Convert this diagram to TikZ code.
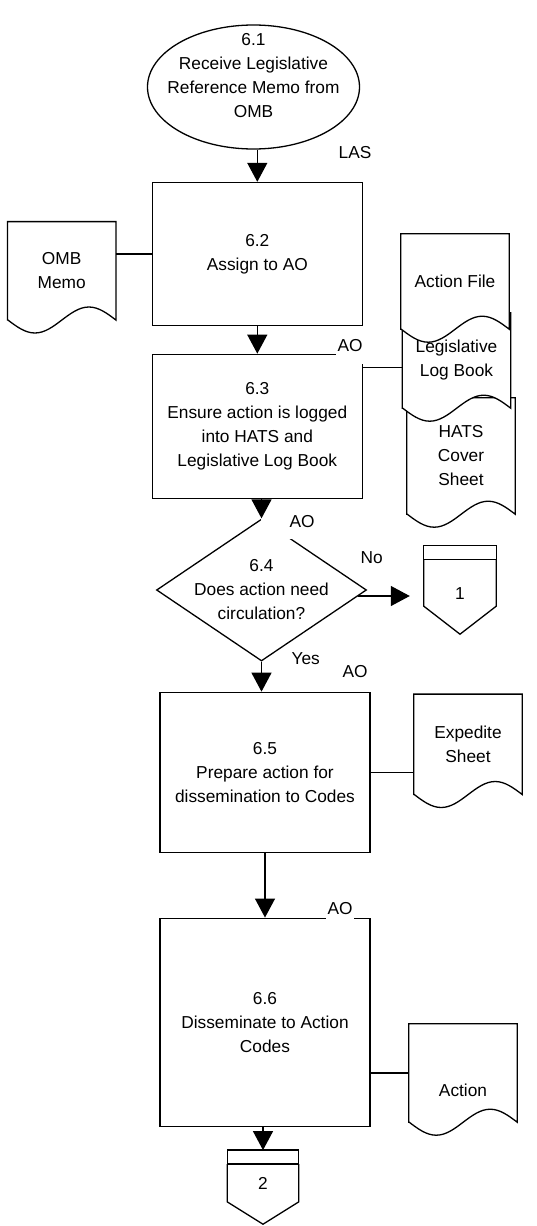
\documentclass[tikz,border=0pt]{standalone}
\usepackage{fontspec}
\setmainfont{Liberation Sans}
\usetikzlibrary{arrows.meta, positioning, shapes.geometric, calc, backgrounds}

\newcommand{\docwave}[1]{%
  \begin{pgfonlayer}{background}
    \draw[shapeline, fill=white] (#1.south west) -- (#1.north west) -- (#1.north east) -- (#1.south east)
      sin ++(-27,-13) cos ++(-27,13) sin ++(-27,13) cos ++(-27,-13) -- cycle;
  \end{pgfonlayer}}
\newcommand{\offpage}[2]{%
  \draw[shapeline] ($(#1.north west)+(0,-14)$) rectangle (#1.north east);
  \draw[shapeline] (#1.north west) -- (#1.south west) -- ($(#1.south)+(0,#2)$) -- (#1.south east) -- (#1.north east);}

\begin{document}
\begin{tikzpicture}[
  x=1pt, y=-1pt,
  font=\fontsize{17.3}{24}\selectfont,
  shapeline/.style={line width=1.3pt},
  startnode/.style={
    ellipse, draw, line width=1.3pt, minimum width=212, minimum height=124,
    inner sep=-15pt, align=center
  },
  stepbox/.style={draw, line width=1.3pt, minimum width=210, inner sep=0pt, align=center},
  decision/.style={
    diamond, draw, line width=1.3pt, aspect=1.48, minimum width=210, minimum height=142,
    inner sep=-12pt, align=center
  },
  doc/.style={minimum width=108, inner sep=0pt, align=center},
  offpg/.style={minimum width=72, inner sep=0pt},
  role/.style={fill=white, inner sep=0pt},
  arr/.style={-{Triangle[length=19pt, width=20pt]}, line width=1.3pt},
  link/.style={line width=1.3pt}
]
  \useasboundingbox (0,0) rectangle (537,1226);

  \node[startnode] (recv) at (253.5,87)
    {6.1\\Receive Legislative\\Reference Memo from\\OMB\\[-9pt]\strut};
  \node[stepbox, minimum height=143] (b62) at (257.3,254) {6.2\\Assign to AO};
  \node[stepbox, minimum height=144] (b63) at (257.3,426.3)
    {6.3\\Ensure action is logged\\into HATS and\\Legislative Log Book};
  \node[decision] (dia) at (261.5,590) {6.4\\Does action need\\circulation?};
  \node[stepbox, minimum height=160] (b65) at (265,772.3)
    {6.5\\Prepare action for\\dissemination to Codes};
  \node[stepbox, minimum height=208] (b66) at (265,1022.2)
    {6.6\\Disseminate to Action\\Codes};

  \node[doc, minimum height=98]  (omb)  at (61.7,270.8) {OMB\\Memo};
  \node[doc, minimum height=116] (hats) at (461,456)    {HATS\\Cover\\Sheet};
  \node[doc, minimum height=95]  (leg)  at (456.5,360.5) {Legislative\\Log Book};
  \node[doc, minimum height=95]  (actf) at (455,281.5)  {Action File};
  \node[doc, minimum height=100] (exp)  at (468,744.3)  {Expedite\\Sheet};
  \node[doc, minimum height=98]  (act)  at (463,1073)
    {\raisebox{-23pt}[0pt][0pt]{Action}};
  \foreach \nm in {omb, hats, leg, actf, exp, act} {\docwave{\nm}}

  \node[offpg, minimum height=46] (con1) at (460,583) {\raisebox{-16pt}[0pt][0pt]{1}};
  \node[offpg, minimum width=71, minimum height=37.4] (con2) at (263,1183) {2};
  \offpage{con1}{28}
  \offpage{con2}{22.3}

  \node[role] (las) at (355,153) {LAS};
  \node[role, minimum width=28, minimum height=36] (ao3) at (350,346) {AO};
  \node[role, minimum width=82, minimum height=34] (ao4) at (302,522) {AO};
  \node (no)  at (371.7,558) {No};
  \node (yes) at (305.7,658.3) {Yes};
  \node[role] (ao5) at (355,671.7) {AO};
  \node[role, minimum width=28, minimum height=26] (ao6) at (340,908.3) {AO};

  \draw[arr] (b62.north |- recv.south) -- (b62.north);
  \draw[arr] (b62.south) -- (b63.north);
  \draw[arr] (dia.north |- b63.south) -- (dia.north);
  \draw[arr, shorten >=14pt] ([xshift=-9pt, yshift=-6pt]dia.east) -- ([yshift=-6pt]dia.east -| con1.west);
  \draw[arr] (dia.south) -- (dia.south |- b65.north);
  \draw[arr] (b65.south) -- (b66.north);
  \draw[arr] (con2.north |- b66.south) -- ([yshift=14pt]con2.north);

  \draw[link] (b62.west) -- (b62.west -| omb.east);
  \draw[link] ([yshift=-7pt]leg.west) -- ([yshift=-7pt]leg.west -| b63.east);
  \draw[link] (b65.east) -- (b65.east -| exp.west);
  \draw[link] (act.west) -- (act.west -| b66.east);
\end{tikzpicture}
\end{document}
